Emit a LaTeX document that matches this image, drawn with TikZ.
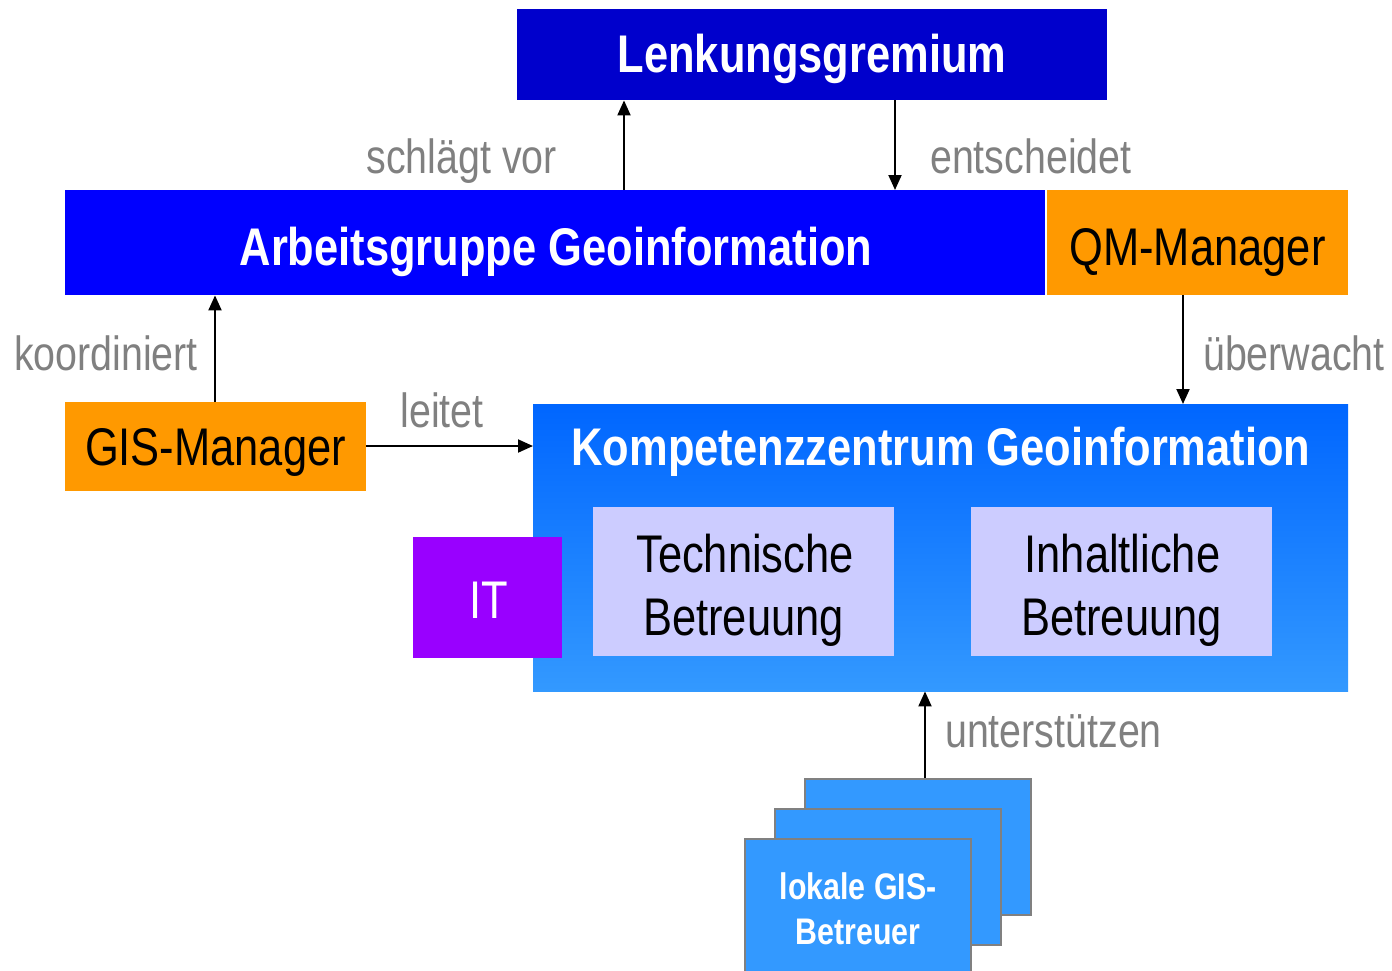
\documentclass[tikz,border=0pt]{standalone}
\usepackage{fontspec}
\setmainfont{Liberation Sans}[FakeStretch=0.82]
\usetikzlibrary{arrows.meta}
\definecolor{lgblue}{HTML}{0000CC}
\definecolor{agblue}{HTML}{0000FF}
\definecolor{kztop}{HTML}{0066FF}
\definecolor{kzbot}{HTML}{3399FF}
\definecolor{mgrorange}{HTML}{FF9900}
\definecolor{itpurple}{HTML}{9900FF}
\definecolor{lilac}{HTML}{CCCCFF}
\definecolor{stackblue}{HTML}{3399FF}
\definecolor{verbgray}{HTML}{808080}
\tikzset{
  box/.style={rectangle, inner sep=0pt, anchor=north west, draw=none},
  stackbox/.style={rectangle, inner sep=0pt, anchor=north west, fill=stackblue,
    draw=verbgray, line width=2pt, minimum width=226pt, minimum height=136pt},
  arr/.style={line width=2pt, -{Triangle[length=15pt,width=13pt]}},
  title/.style={font=\fontsize{53}{60}\selectfont\bfseries, text=white, inner sep=0pt, anchor=base},
  plain/.style={font=\fontsize{53}{63}\selectfont, text=black, inner sep=0pt, anchor=base},
  verb/.style={font=\fontsize{48}{56}\selectfont, text=verbgray, inner sep=0pt, anchor=base},
}
\begin{document}
\begin{tikzpicture}[x=1pt, y=-1pt]
\useasboundingbox (0,0) rectangle (1392,970);

% boxes of the organisation
\node[box, fill=lgblue, minimum width=590pt, minimum height=91pt] (lg) at (517,9) {};
\node[box, fill=agblue, minimum width=980pt, minimum height=105pt] (ag) at (65,190) {};
\node[box, fill=mgrorange, minimum width=301pt, minimum height=105pt] (qm) at (1047,190) {};
\node[box, fill=mgrorange, minimum width=301pt, minimum height=89pt] (gis) at (65,402) {};
\node[box, top color=kztop, bottom color=kzbot, minimum width=815pt, minimum height=287pt] (kz) at (533,404) {};
\node[box, fill=lilac, minimum width=301pt, minimum height=149pt] (tb) at (593,507) {};
\node[box, fill=lilac, minimum width=301pt, minimum height=149pt] (ib) at (971,507) {};
\node[box, fill=itpurple, minimum width=149pt, minimum height=121pt] (it) at (413,537) {};

% stacked local support boxes
\node[stackbox] (st3) at (804,778) {};
\node[stackbox] (st2) at (774,808) {};
\node[stackbox, minimum height=150pt] (st1) at (744,838) {};

% box texts
\node[title] (lgt) at (812,72) {Lenkungsgremium};
\node[title] (agt) at (556,265) {Arbeitsgruppe Geoinformation};
\node[plain] (qmt) at (1197.5,265) {QM-Manager};
\node[plain] (gist) at (215.5,465) {GIS-Manager};
\node[title] (kzt) at (941,465) {Kompetenzzentrum Geoinformation};
\node[plain] (tbt1) at (745,572) {Technische};
\node[plain] (tbt2) at (743.5,635) {Betreuung};
\node[plain] (ibt1) at (1122.5,572) {Inhaltliche};
\node[plain] (ibt2) at (1121.5,635) {Betreuung};
\node[plain, text=white] (itt) at (488.5,618) {IT};
\node[title, font=\fontsize{37}{44}\selectfont\bfseries] (st1a) at (858,899) {lokale GIS-};
\node[title, font=\fontsize{37}{44}\selectfont\bfseries] (st1b) at (858,944) {Betreuer};

% relations
\coordinate (xsv) at (624,0);
\coordinate (xen) at (895,0);
\coordinate (xue) at (1183,0);
\coordinate (xko) at (215,0);
\coordinate (yle) at (0,446);
\coordinate (xun) at (925,0);
\draw[arr] (ag.north -| xsv) -- (lg.south -| xsv);
\draw[arr] (lg.south -| xen) -- (ag.north -| xen);
\draw[arr] (qm.south -| xue) -- (kz.north -| xue);
\draw[arr] (gis.north -| xko) -- (ag.south -| xko);
\draw[arr] (gis.east |- yle) -- (kz.west |- yle);
\draw[arr] (st3.north -| xun) -- (kz.south -| xun);

% relation labels
\node[verb, anchor=base east] (lsv) at (557,173) {schlägt vor};
\node[verb, anchor=base west] (len) at (930,173) {entscheidet};
\node[verb, anchor=base east] (lko) at (198,370) {koordiniert};
\node[verb, anchor=base west] (lue) at (1203,370) {überwacht};
\node[verb] (lle) at (442,427) {leitet};
\node[verb, anchor=base west] (lun) at (945,747) {unterstützen};
\end{tikzpicture}
\end{document}
